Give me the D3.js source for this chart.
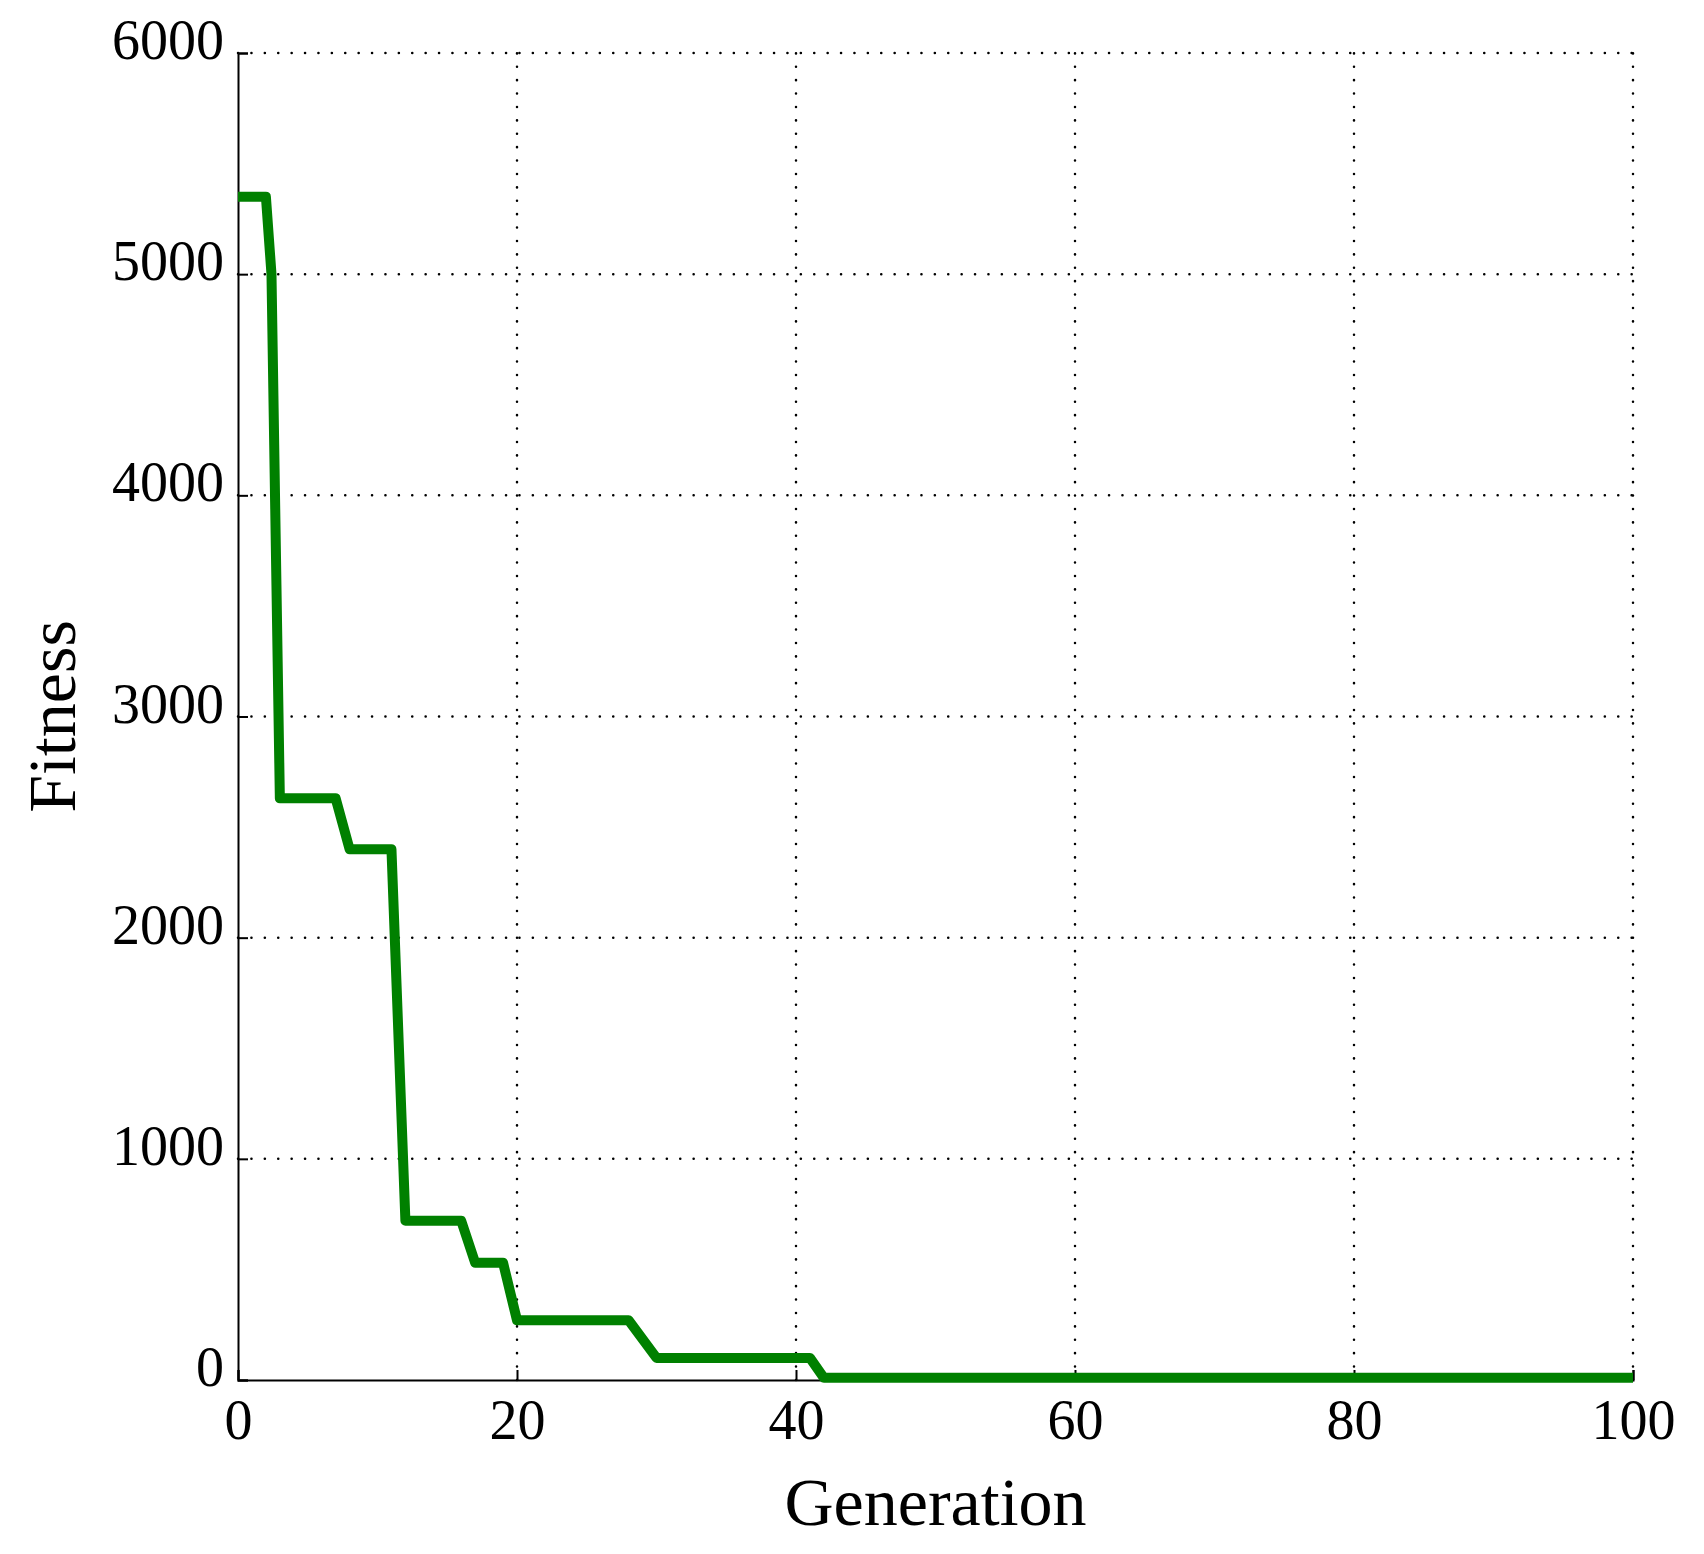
<!DOCTYPE html>
<html>
<head>
<meta charset="utf-8">
<script src="https://cdn.jsdelivr.net/npm/d3@7"></script>
<style>
body { margin: 0; background: #fff; }
text { font-family: "Liberation Serif", "DejaVu Serif", serif; }
</style>
</head>
<body>
<div id="chart-area"></div>
<script>
// best fitness per generation
const generations = [0, 2, 2.4, 3, 7, 8, 11, 12, 16, 17, 19, 20, 28, 30, 41, 42, 100]
const fitness = [5350, 5350, 5000, 2630, 2630, 2400, 2400, 720, 720, 530, 530, 270, 270, 100, 100, 10, 10]
const xTicks = [0, 20, 40, 60, 80, 100]
const yTicks = [0, 1000, 2000, 3000, 4000, 5000, 6000]

const width = 1704, height = 1554
const margin = {left: 238, top: 53, right: 71, bottom: 174}

const svg = d3.select("#chart-area").append("svg")
    .attr("width", width)
    .attr("height", height)

const x = d3.scaleLinear().domain([0, 100]).range([margin.left, width - margin.right])
const y = d3.scaleLinear().domain([0, 6000]).range([height - margin.bottom, margin.top])

// dotted grid
svg.append("g").selectAll("line").data(xTicks.slice(1)).enter().append("line")
    .attr("x1", d => x(d)).attr("x2", d => x(d))
    .attr("y1", y(0)).attr("y2", y(6000))
    .attr("stroke", "#000").attr("stroke-width", 2.5)
    .attr("stroke-dasharray", "0.1 13.3").attr("stroke-linecap", "round")
svg.append("g").selectAll("line").data(yTicks.slice(1)).enter().append("line")
    .attr("y1", d => y(d)).attr("y2", d => y(d))
    .attr("x1", x(0)).attr("x2", x(100))
    .attr("stroke", "#000").attr("stroke-width", 2.5)
    .attr("stroke-dasharray", "0.1 13.3").attr("stroke-linecap", "round")

const xAxis = svg.append("g")
    .attr("transform", `translate(0,${y(0)})`)
    .call(d3.axisBottom(x).tickValues(xTicks).tickFormat(d3.format("d")).tickSize(-10).tickPadding(14))
const yAxis = svg.append("g")
    .attr("transform", `translate(${x(0)},0)`)
    .call(d3.axisLeft(y).tickValues(yTicks).tickFormat(d3.format("d")).tickSize(-10).tickPadding(14))

for (const ax of [xAxis, yAxis]) {
    ax.select(".domain").attr("stroke-width", 2)
    ax.selectAll(".tick line").attr("stroke-width", 2)
    ax.selectAll("text").attr("font-size", 56).attr("font-family", "Liberation Serif").attr("fill", "#000")
}
xAxis.selectAll("text").attr("dy", "0.8em")
yAxis.selectAll("text").attr("dy", "0.1em")

const line = d3.line().x((d, i) => x(generations[i])).y(d => y(d))
svg.append("path")
    .datum(fitness)
    .attr("d", line)
    .attr("fill", "none")
    .attr("stroke", "#008000")
    .attr("stroke-width", 10)
    .attr("stroke-linejoin", "round")

svg.append("text")
    .attr("x", (x(0) + x(100)) / 2).attr("y", 1525)
    .attr("text-anchor", "middle").attr("font-size", 68)
    .text("Generation")
svg.append("text")
    .attr("transform", `translate(75,${(y(0) + y(6000)) / 2}) rotate(-90)`)
    .attr("text-anchor", "middle").attr("font-size", 68)
    .text("Fitness")
</script>
</body>
</html>
